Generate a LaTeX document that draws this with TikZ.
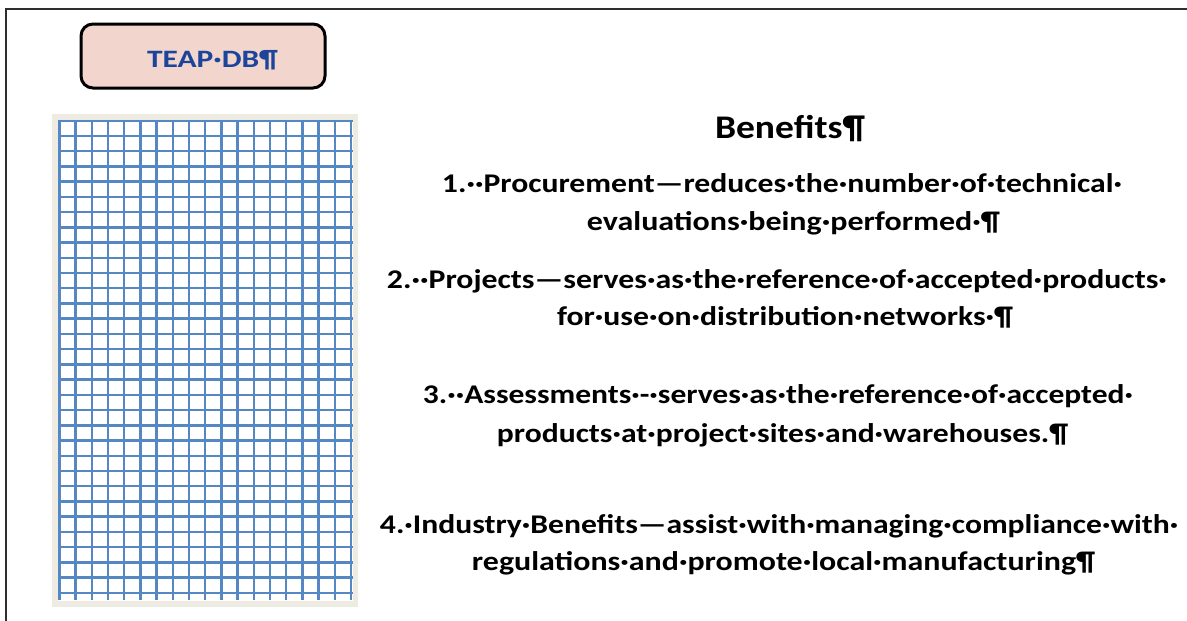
\documentclass[tikz,border=0pt]{standalone}
\usepackage{fontspec}
\setmainfont{Carlito}
\usepackage{graphicx}
\definecolor{framec}{HTML}{2E2E2E}
\definecolor{boxfill}{HTML}{F2D6CD}
\definecolor{tealblue}{HTML}{1C449A}
\definecolor{gridblue}{HTML}{5587C4}
\definecolor{panelbg}{HTML}{EEECE2}
\newcommand\fitw[2]{\resizebox{#1pt}{\height}{#2}}
\tikzset{
  frameline/.style={draw=framec, line width=2.2pt},
  titlebox/.style={draw=black, line width=3pt, fill=boxfill, rounded corners=12pt},
  txt/.style={anchor=base, inner sep=0pt, font=\bfseries\fontsize{27}{32}\selectfont},
  headtxt/.style={anchor=base, inner sep=0pt, font=\bfseries\fontsize{33}{40}\selectfont},
  boxtxt/.style={anchor=base, inner sep=0pt, text=tealblue, font=\bfseries\fontsize{25}{30}\selectfont},
  gridline/.style={draw=gridblue, line width=2.4pt},
}
\begin{document}
\begin{tikzpicture}[x=1pt,y=-1pt]
\useasboundingbox (0,0) rectangle (1187,621);
\fill[white] (0,0) rectangle (1187,621);
% frame
\coordinate (ftr) at (1187,8.7);
\coordinate (ftl) at (6.2,8.7);
\coordinate (fbl) at (6.2,621);
\draw[frameline] (ftr) -- (ftl) -- (fbl);
% title box
\draw[titlebox] (81,24) rectangle (325,88);
\node[boxtxt] (teap) at (212.5,67) {\fitw{131}{TEAP·DB¶}};
% grid panel
\fill[panelbg] (52,114) rectangle (358,607);
\fill[white] (57.5,119.5) rectangle (352.8,600.5);
\foreach \i in {0,...,18} {
  \draw[gridline] ({59.3+16.2*\i},120.7) -- ({59.3+16.2*\i},600);
}
\foreach \j in {0,...,31} {
  \draw[gridline] (58.2,{120.7+15.23*\j}) -- (352.7,{120.7+15.23*\j});
}
% texts
\node[headtxt] (head) at (790,138) {\fitw{150}{Benefits¶}};
\node[txt] (l1a) at (782,192) {\fitw{680}{1.··Procurement—reduces·the·number·of·technical·}};
\node[txt] (l1b) at (793.5,230) {\fitw{413}{evaluations·being·performed·¶}};
\node[txt] (l2a) at (777,288) {\fitw{780}{2.··Projects—serves·as·the·reference·of·accepted·products·}};
\node[txt] (l2b) at (785,325) {\fitw{456}{for·use·on·distribution·networks·¶}};
\node[txt] (l3a) at (778,403) {\fitw{710}{3.··Assessments·-·serves·as·the·reference·of·accepted·}};
\node[txt] (l3b) at (782.5,442) {\fitw{571}{products·at·project·sites·and·warehouses.¶}};
\node[txt] (l4a) at (779,533) {\fitw{798}{4.·Industry·Benefits—assist·with·managing·compliance·with·}};
\node[txt] (l4b) at (783.5,570) {\fitw{623}{regulations·and·promote·local·manufacturing¶}};
\end{tikzpicture}
\end{document}
